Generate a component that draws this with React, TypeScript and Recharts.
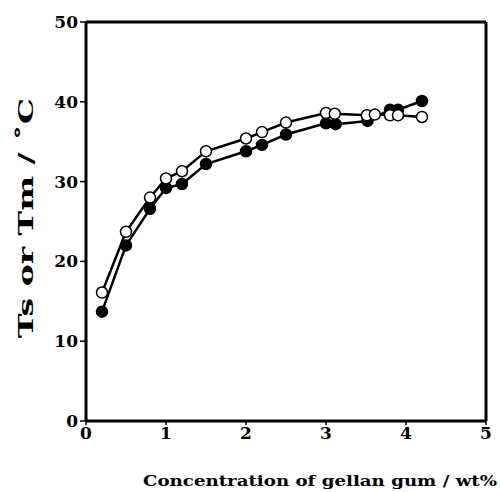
import React from 'react';
import { LineChart, Line, XAxis, YAxis, ReferenceLine } from 'recharts';

const concFilled = [0.2, 0.5, 0.8, 1.0, 1.2, 1.5, 2.0, 2.2, 2.5, 3.0, 3.12, 3.52, 3.8, 3.9, 4.2];
const tempFilled = [13.7, 22.0, 26.6, 29.2, 29.7, 32.2, 33.8, 34.6, 35.9, 37.3, 37.2, 37.6, 39.0, 39.0, 40.1];
const concOpen = [0.2, 0.5, 0.8, 1.0, 1.2, 1.5, 2.0, 2.2, 2.5, 3.0, 3.11, 3.51, 3.61, 3.8, 3.9, 4.2];
const tempOpen = [16.1, 23.7, 28.0, 30.4, 31.3, 33.8, 35.4, 36.2, 37.4, 38.6, 38.5, 38.3, 38.4, 38.3, 38.3, 38.1];
const xTicks = [0, 1, 2, 3, 4, 5];
const yTicks = [0, 10, 20, 30, 40, 50];
const xLabel = 'Concentration of gellan gum / wt%';
const yLabel = 'Ts or Tm  /  ˚C';

const filledData = concFilled.map((x, i) => ({ x, y: tempFilled[i] }));
const openData = concOpen.map((x, i) => ({ x, y: tempOpen[i] }));

const FONT = '"DejaVu Serif", "Liberation Serif", serif';

export default function App() {
  return (
    <div style={{ position: 'absolute', left: 0, top: 0, width: 500, height: 492, background: '#fff' }}>
      <LineChart width={500} height={492} margin={{ top: 22, right: 14, left: 0, bottom: 0 }}>
        <XAxis
          dataKey="x"
          type="number"
          domain={[0, 5]}
          ticks={xTicks}
          allowDuplicatedCategory={false}
          height={71}
          axisLine={{ stroke: '#000', strokeWidth: 3 }}
          tickLine={{ stroke: '#000', strokeWidth: 1.5 }}
          tickSize={4}
          tick={{ fill: '#000', fontFamily: FONT, fontWeight: 'bold', fontSize: 17 }}
          label={{
            value: xLabel,
            content: () => (
              <text x={143} y={486} textLength={354} lengthAdjust="spacingAndGlyphs" fontFamily={FONT} fontWeight="bold" fontSize={15} fill="#000">
                {xLabel}
              </text>
            ),
          }}
        />
        <YAxis
          type="number"
          domain={[0, 50]}
          ticks={yTicks}
          width={86}
          axisLine={{ stroke: '#000', strokeWidth: 3 }}
          tickLine={{ stroke: '#000', strokeWidth: 1.5 }}
          tickSize={6}
          tick={{ fill: '#000', fontFamily: FONT, fontWeight: 'bold', fontSize: 17 }}
          label={{
            value: yLabel,
            content: () => (
              <text x={33} y={218} transform="rotate(-90 33 218)" textAnchor="middle" textLength={240} lengthAdjust="spacingAndGlyphs" fontFamily={FONT} fontWeight="bold" fontSize={21} fill="#000">
                {yLabel}
              </text>
            ),
          }}
        />
        <ReferenceLine y={50} stroke="#000" strokeWidth={3} />
        <ReferenceLine x={5} stroke="#000" strokeWidth={3} />
        <Line
          data={filledData}
          dataKey="y"
          type="linear"
          stroke="#000"
          strokeWidth={2.5}
          dot={{ r: 5.5, fill: '#000', stroke: '#000', strokeWidth: 1.5 }}
          isAnimationActive={false}
        />
        <Line
          data={openData}
          dataKey="y"
          type="linear"
          stroke="#000"
          strokeWidth={2.5}
          dot={{ r: 5.5, fill: '#fff', stroke: '#000', strokeWidth: 1.5 }}
          isAnimationActive={false}
        />
      </LineChart>
    </div>
  );
}
